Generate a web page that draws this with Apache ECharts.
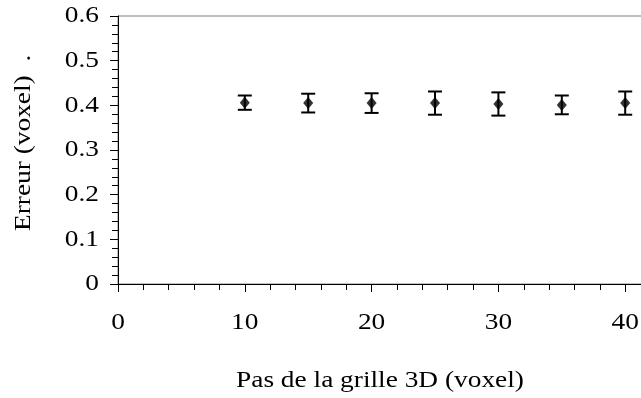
<!DOCTYPE html>
<html>
<head>
<meta charset="utf-8">
<script src="https://cdn.jsdelivr.net/npm/echarts@6/dist/echarts.min.js"></script>
<style>
  html, body { margin: 0; padding: 0; background: #fff; width: 641px; height: 398px; overflow: hidden; }
  #chart { width: 760px; height: 398px; }
</style>
</head>
<body>
<div id="chart"></div>
<script>
// Grid step (voxel) and mean error (voxel) with its spread
const steps = [10, 15, 20, 25, 30, 35, 40];
const errors = [0.406, 0.405, 0.405, 0.405, 0.403, 0.401, 0.405];
const spreads = [0.016, 0.021, 0.022, 0.026, 0.026, 0.021, 0.026];
const xTickValues = [0, 10, 20, 30, 40, 50];
const xTickLabels = ['0', '10', '20', '30', '40', '50'];
const yTickValues = [0, 0.1, 0.2, 0.3, 0.4, 0.5, 0.6];
const yTickLabels = ['0', '0.1', '0.2', '0.3', '0.4', '0.5', '0.6'];

const FAMILY = 'Liberation Serif';
const SIZE = 24;
const WIDE = 1.14; // wide-set serif lettering

const points = steps.map((s, i) => [s, errors[i]]);
const bars = steps.map((s, i) => [s, errors[i] - spreads[i], errors[i] + spreads[i]]);

function textStyle(text, align) {
  return {
    text: text, fontFamily: FAMILY, fontSize: SIZE, fill: '#000',
    align: align, verticalAlign: 'middle'
  };
}

function tickText(text, x, y, align) {
  return { type: 'text', x: x, y: y, scaleX: WIDE, style: textStyle(text, align) };
}

const chart = echarts.init(document.getElementById('chart'), null, { renderer: 'canvas' });
chart.setOption({
  animation: false,
  grid: {
    left: 118, top: 16, bottom: 114, right: 8,
    show: true, borderColor: '#808080', borderWidth: 1, backgroundColor: 'transparent'
  },
  xAxis: {
    type: 'value', min: 0, max: 50, interval: 10,
    axisLine: { onZero: false, lineStyle: { color: '#000', width: 1 } },
    axisTick: { show: true, length: 8, lineStyle: { color: '#000' } },
    minorTick: { show: true, splitNumber: 5, length: 6, lineStyle: { color: '#000' } },
    splitLine: { show: false },
    axisLabel: { show: false }
  },
  yAxis: {
    type: 'value', min: 0, max: 0.6, interval: 0.1,
    axisLine: { show: true, lineStyle: { color: '#000', width: 1 } },
    axisTick: { show: true, length: 8, lineStyle: { color: '#000' } },
    minorTick: { show: true, splitNumber: 5, length: 6, lineStyle: { color: '#000' } },
    splitLine: { show: false },
    axisLabel: { show: false }
  },
  graphic: [
    {
      type: 'text', x: 380, y: 381, scaleX: WIDE,
      style: textStyle('Pas de la grille 3D (voxel)', 'center')
    },
    {
      type: 'text', x: 24, y: 231, rotation: Math.PI / 2, scaleX: WIDE,
      style: textStyle('Erreur (voxel)  .', 'left')
    }
  ],
  series: [
    {
      // x tick labels placed from the axis scale
      type: 'custom', silent: true, clip: false,
      data: xTickValues.map((v, i) => [v, i]),
      renderItem: (params, api) => {
        const p = api.coord([api.value(0), 0]);
        return tickText(xTickLabels[api.value(1)], p[0], p[1] + 39, 'center');
      }
    },
    {
      // y tick labels placed from the axis scale
      type: 'custom', silent: true, clip: false,
      data: yTickValues.map((v, i) => [0, v, i]),
      renderItem: (params, api) => {
        const p = api.coord([0, api.value(1)]);
        return tickText(yTickLabels[api.value(2)], p[0] - 19, p[1], 'right');
      }
    },
    {
      // error bars
      type: 'custom', silent: true,
      data: bars,
      renderItem: (params, api) => {
        const x = api.value(0);
        const lo = api.coord([x, api.value(1)]);
        const hi = api.coord([x, api.value(2)]);
        const half = 7;
        const st = { stroke: '#000', lineWidth: 2 };
        return {
          type: 'group',
          children: [
            { type: 'line', shape: { x1: lo[0], y1: lo[1], x2: hi[0], y2: hi[1] }, style: st },
            { type: 'line', shape: { x1: lo[0] - half, y1: lo[1], x2: lo[0] + half, y2: lo[1] }, style: st },
            { type: 'line', shape: { x1: hi[0] - half, y1: hi[1], x2: hi[0] + half, y2: hi[1] }, style: st }
          ]
        };
      },
      z: 2
    },
    {
      type: 'scatter', silent: true,
      data: points,
      symbol: 'diamond',
      symbolSize: [10, 12],
      itemStyle: { color: '#000' },
      z: 3
    }
  ]
});
</script>
</body>
</html>
